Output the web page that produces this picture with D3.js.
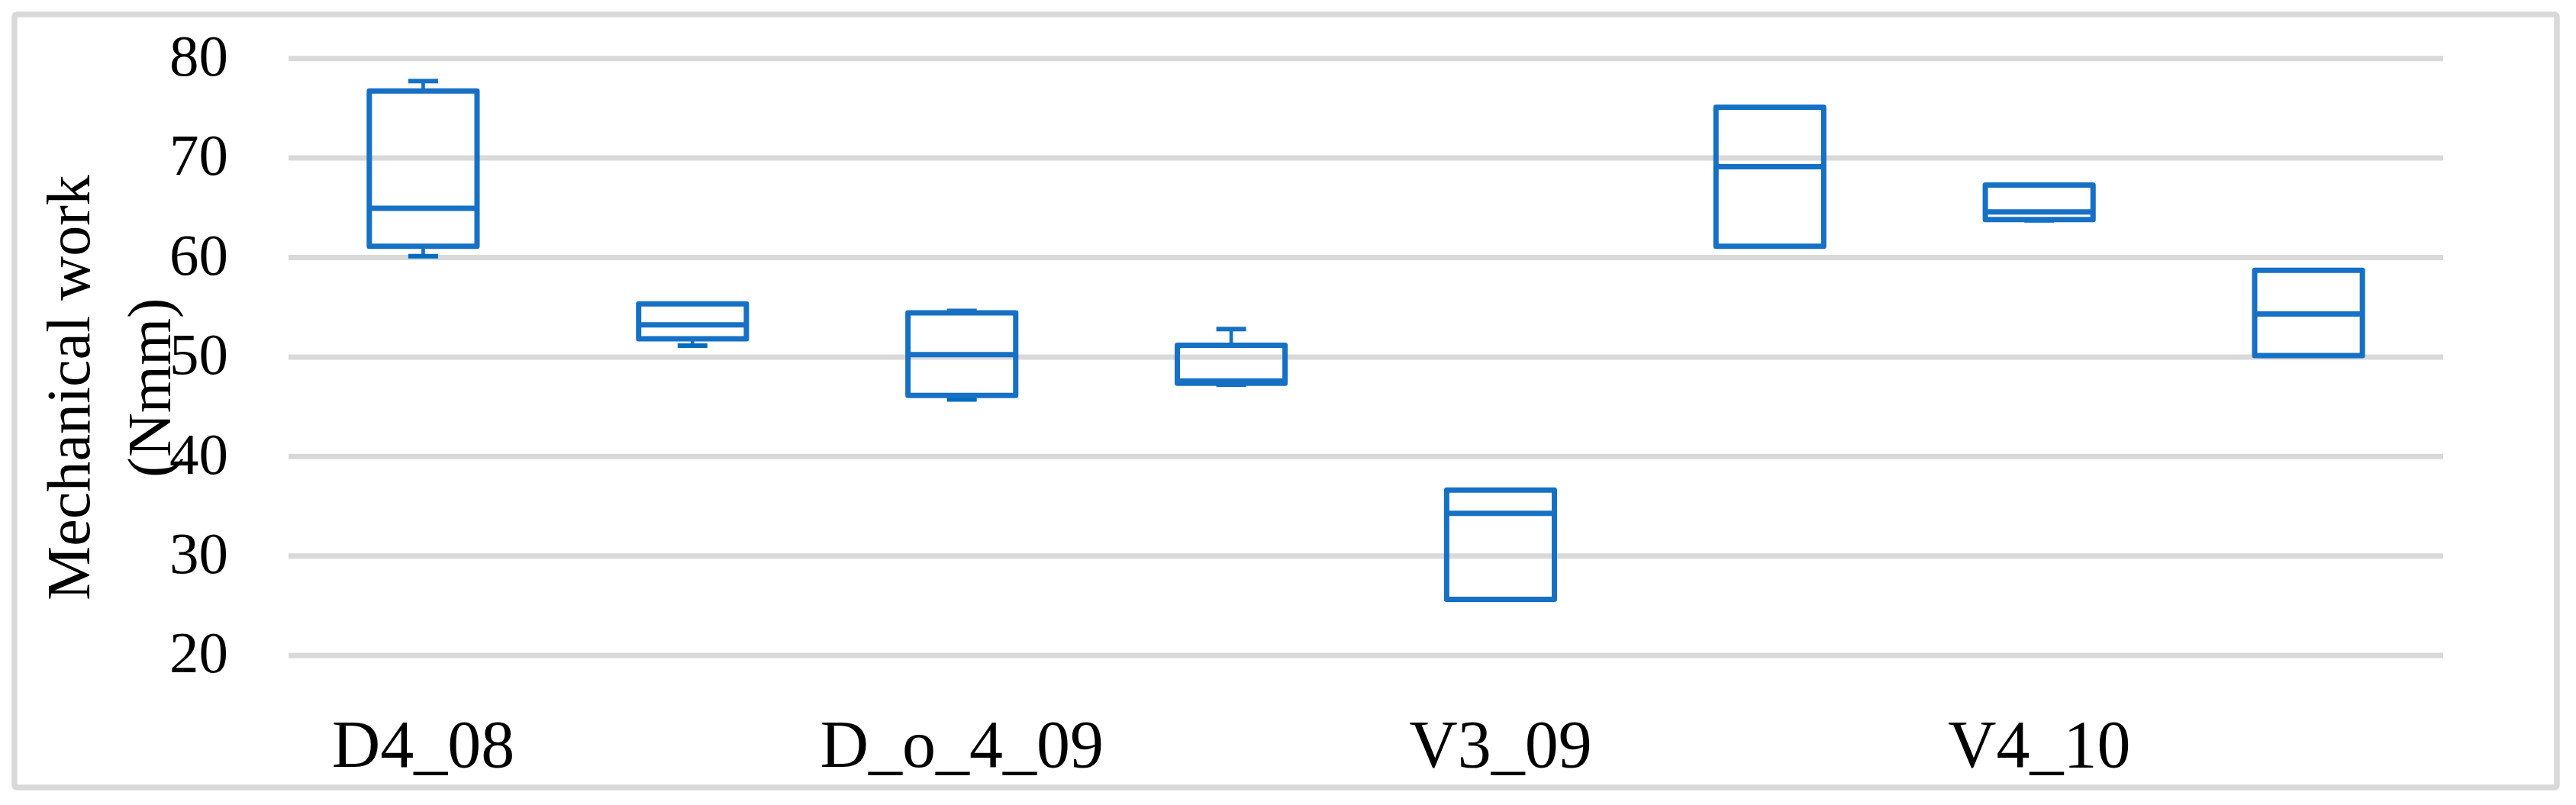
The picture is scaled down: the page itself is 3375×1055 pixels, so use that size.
<!DOCTYPE html>
<html>
<head>
<meta charset="utf-8">
<script src="https://cdn.jsdelivr.net/npm/d3@7"></script>
<style>
  html, body { margin: 0; padding: 0; background: #ffffff; }
  svg { display: block; }
  text { font-family: "Liberation Serif", "Times New Roman", serif; fill: #000; }
</style>
</head>
<body>
<svg id="chart" width="3375" height="1055"></svg>
<script>
// ---- data ----
const categoryLabels = ["D4_08", "", "D_o_4_09", "", "V3_09", "", "V4_10", ""];
const whiskerMin = [60.1, 51.1, 45.7, 47.2, 25.6, 61.1, 63.7, 50.1];
const q1Values   = [61.1, 51.8, 46.1, 47.33, 25.6, 61.1, 63.77, 50.1];
const medians    = [64.9, 53.2, 50.2, 47.55, 34.26, 69.08, 64.54, 54.28];
const q3Values   = [76.7, 55.3, 54.4, 51.14, 36.6, 75.06, 67.25, 58.67];
const whiskerMax = [77.7, 55.3, 54.6, 52.78, 36.6, 75.06, 67.25, 58.67];
const yTicks = [20, 30, 40, 50, 60, 70, 80];
const yTitleLines = ["Mechanical work", "(Nmm)"];

const boxes = categoryLabels.map((c, i) => ({
  i, label: c, min: whiskerMin[i], q1: q1Values[i], med: medians[i], q3: q3Values[i], max: whiskerMax[i]
}));

// ---- layout ----
const svg = d3.select("#chart");
const plotLeft = 378, plotRight = 3201, plotTop = 76.2, plotBottom = 858.6;
const blue = "#1670c4";

// outer frame
svg.append("rect")
  .attr("x", 19).attr("y", 19).attr("width", 3331).attr("height", 1013)
  .attr("rx", 3)
  .attr("fill", "#fff").attr("stroke", "#d9d9d9").attr("stroke-width", 7.5);

const x = d3.scaleBand().domain(d3.range(categoryLabels.length)).range([plotLeft, plotRight]).padding(0);
const y = d3.scaleLinear().domain([20, 80]).range([plotBottom, plotTop]);

// y axis + gridlines
const yAxis = d3.axisLeft(y).tickValues(yTicks).tickSize(-(plotRight - plotLeft)).tickPadding(79).tickFormat(d3.format("d"));
const gy = svg.append("g").attr("transform", `translate(${plotLeft},0)`).call(yAxis);
gy.select(".domain").remove();
gy.selectAll(".tick line").attr("stroke", "#d9d9d9").attr("stroke-width", 7);
gy.selectAll(".tick text")
  .attr("font-family", "'Liberation Serif', 'Times New Roman', serif")
  .attr("font-size", 77).attr("fill", "#000").attr("dy", "0.29em");

// y title
const yTitle = svg.append("text")
  .attr("transform", "translate(0,508) rotate(-90)")
  .attr("text-anchor", "middle")
  .attr("font-size", 80);
yTitle.selectAll("tspan").data(yTitleLines).join("tspan")
  .attr("x", 0)
  .attr("y", (d, i) => i === 0 ? 117 : 223)
  .text(d => d);

// x labels
svg.append("g").selectAll("text").data(boxes.filter(b => b.label !== "")).join("text")
  .attr("x", d => x(d.i) + x.bandwidth() / 2)
  .attr("y", 1005)
  .attr("text-anchor", "middle")
  .attr("font-size", 88)
  .text(d => d.label);

// boxes
const bw = x.bandwidth() * 0.4;
const capW = 39;
const g = svg.append("g");
const bg = g.selectAll("g.box").data(boxes).join("g").attr("class", "box");

// whiskers
bg.append("line")
  .attr("x1", d => x(d.i) + x.bandwidth() / 2).attr("x2", d => x(d.i) + x.bandwidth() / 2)
  .attr("y1", d => y(d.max)).attr("y2", d => y(d.q3))
  .attr("stroke", blue).attr("stroke-width", 4.7);
bg.append("line")
  .attr("x1", d => x(d.i) + x.bandwidth() / 2).attr("x2", d => x(d.i) + x.bandwidth() / 2)
  .attr("y1", d => y(d.q1)).attr("y2", d => y(d.min))
  .attr("stroke", blue).attr("stroke-width", 4.7);
// caps
bg.filter(d => d.max > d.q3).append("line")
  .attr("x1", d => x(d.i) + x.bandwidth() / 2 - capW / 2).attr("x2", d => x(d.i) + x.bandwidth() / 2 + capW / 2)
  .attr("y1", d => y(d.max)).attr("y2", d => y(d.max))
  .attr("stroke", blue).attr("stroke-width", 6);
bg.filter(d => d.min < d.q1).append("line")
  .attr("x1", d => x(d.i) + x.bandwidth() / 2 - capW / 2).attr("x2", d => x(d.i) + x.bandwidth() / 2 + capW / 2)
  .attr("y1", d => y(d.min)).attr("y2", d => y(d.min))
  .attr("stroke", "#006cc0").attr("stroke-width", 6);
// box
bg.append("rect")
  .attr("x", d => x(d.i) + (x.bandwidth() - bw) / 2)
  .attr("y", d => y(d.q3))
  .attr("width", bw)
  .attr("height", d => y(d.q1) - y(d.q3))
  .attr("fill", "none").attr("stroke", blue).attr("stroke-width", 7)
  .attr("stroke-linejoin", "round");
// median
bg.append("line")
  .attr("x1", d => x(d.i) + (x.bandwidth() - bw) / 2).attr("x2", d => x(d.i) + (x.bandwidth() + bw) / 2)
  .attr("y1", d => y(d.med)).attr("y2", d => y(d.med))
  .attr("stroke", blue).attr("stroke-width", 7);
</script>
</body>
</html>
